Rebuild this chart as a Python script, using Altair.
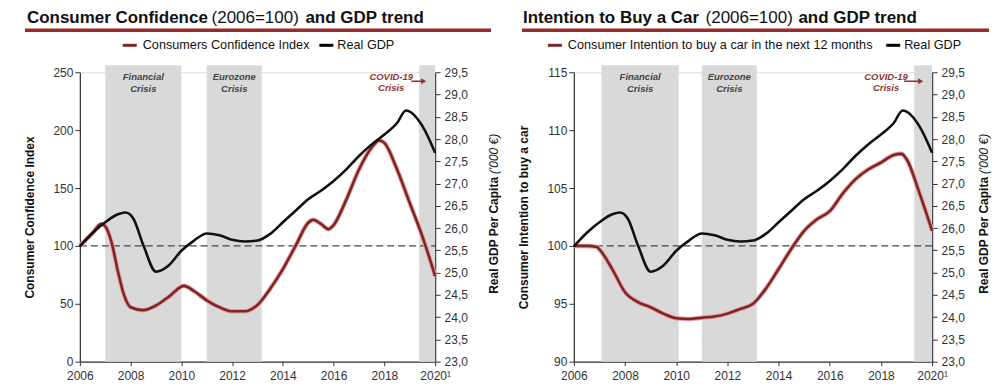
import altair as alt
import pandas as pd

# ---------------- data ----------------
gdp_years = [2006, 2006.5, 2007, 2007.5, 2007.8, 2008.1, 2008.5, 2009, 2009.5, 2010, 2010.5,
             2011, 2011.5, 2012, 2012.5, 2013, 2013.5, 2014, 2014.5, 2015, 2015.5,
             2016, 2016.5, 2017, 2017.5, 2018, 2018.5, 2018.85, 2019.5, 2020]
gdp_values = [25.59, 25.89, 26.13, 26.31, 26.35, 26.22, 25.62, 25.02, 25.16, 25.49, 25.72,
              25.88, 25.84, 25.74, 25.70, 25.72, 25.87, 26.13, 26.39, 26.65, 26.84,
              27.06, 27.32, 27.62, 27.88, 28.10, 28.36, 28.64, 28.29, 27.69]

conf_years = [2006, 2006.5, 2006.85, 2007, 2007.25, 2007.5, 2007.75, 2008, 2008.5, 2009,
              2009.5, 2010.1, 2010.5, 2011, 2011.5, 2012, 2012.5, 2013, 2013.5, 2014,
              2014.5, 2015, 2015.2, 2015.5, 2015.8, 2016, 2016.5, 2017, 2017.5, 2017.8,
              2018, 2018.5, 2019, 2019.5, 2020]
conf_values = [100, 111, 119, 117, 103, 78, 57, 47, 44.5, 48.5,
               56, 65.5, 61, 53, 47, 43.5, 43.5, 49, 63, 80,
               100, 120, 122.5, 119, 114.5, 118, 140, 166, 185, 191,
               189, 166, 137, 108, 74]

intent_years = [2006, 2006.5, 2006.9, 2007, 2007.5, 2008, 2008.5, 2009, 2009.5, 2010,
                2010.5, 2011, 2011.5, 2012, 2012.5, 2013, 2013.5, 2014, 2014.5, 2015,
                2015.5, 2016, 2016.5, 2017, 2017.5, 2018, 2018.5, 2018.8, 2019, 2019.5, 2020]
intent_values = [100, 100, 99.9, 99.7, 98.0, 96.0, 95.15, 94.7, 94.15, 93.75,
                 93.68, 93.8, 93.9, 94.15, 94.55, 95.0, 96.3, 98.0, 99.75, 101.3,
                 102.3, 103.0, 104.5, 105.75, 106.6, 107.2, 107.85, 107.95, 107.5, 104.6, 101.3]

x_ticks = [2006, 2008, 2010, 2012, 2014, 2016, 2018, 2020]
gdp_ticks = [23.0, 23.5, 24.0, 24.5, 25.0, 25.5, 26.0, 26.5, 27.0, 27.5, 28.0, 28.5, 29.0, 29.5]
conf_ticks = [0, 50, 100, 150, 200, 250]
intent_ticks = [90, 95, 100, 105, 110, 115]

crisis_labels = ["Financial\nCrisis", "Eurozone\nCrisis"]
left_shade_start = [2007.0, 2011.0, 2019.37]
left_shade_end = [2010.0, 2013.17, 2020.0]
right_shade_start = [2007.08, 2011.0, 2019.3]
right_shade_end = [2010.1, 2013.15, 2020.0]

FONT = "Liberation Sans"
RED = "#7e2626"
HALO = "#e6a0a0"
COVID = "#8b3636"
AXC = "#333333"
ONE = pd.DataFrame({"a": [0]})
TY = -54
H = 290


def panel(width, height, red_years, red_values, ydom, yticks, ytitle, title_parts,
          rule_x, legend_label, legend_pos, sh_start, sh_end, covid_x, arrow_x,
          rtitle_x):
    xs = alt.Scale(domain=[2006, 2020], nice=False, zero=False)
    xaxis = alt.Axis(values=x_ticks, title=None, grid=False, tickSize=4,
                     labelExpr="datum.value == 2020 ? '2020\u00b9' : datum.value + ''",
                     labelFont=FONT, labelFontSize=12, labelColor=AXC, labelPadding=5,
                     labelFlush=False, domainColor=AXC, tickColor=AXC, domainWidth=1.2)
    ys_left = alt.Scale(domain=ydom, nice=False, zero=False)
    yaxis_left = alt.Axis(orient="left", values=yticks, title=ytitle, grid=False, tickSize=5,
                          labelFont=FONT, labelFontSize=12, labelColor=AXC, labelPadding=2,
                          domainColor=AXC, tickColor=AXC, domainWidth=1.2,
                          titleFont=FONT, titleFontSize=12, titleFontWeight="bold",
                          titleColor="#111", titlePadding=16)
    ys_right = alt.Scale(domain=[23, 29.5], nice=False, zero=False)
    yaxis_right = alt.Axis(orient="right", values=gdp_ticks, title=None, grid=False, tickSize=5,
                           labelExpr="replace(format(datum.value, '.1f'), '.', ',')",
                           labelFont=FONT, labelFontSize=12, labelColor=AXC, labelPadding=4,
                           domainColor=AXC, tickColor=AXC, domainWidth=1.2)

    def X(field):
        return alt.X(field, scale=xs, axis=xaxis)

    shades = pd.DataFrame({"start": sh_start, "end": sh_end})
    shade = alt.Chart(shades).mark_rect(color="#d9d9d9").encode(
        x=X("start:Q"), x2="end:Q", y=alt.value(-7), y2=alt.value(height))

    base_df = pd.DataFrame({"x": [2006], "x2": [2020], "y": [100]})
    dash = alt.Chart(base_df).mark_rule(strokeDash=[7, 4], color="#444", strokeWidth=1.3).encode(
        x=X("x:Q"), x2="x2:Q", y=alt.Y("y:Q", scale=ys_left, axis=yaxis_left))
    red_df = pd.DataFrame({"year": red_years, "v": red_values})
    halo = alt.Chart(red_df).mark_line(interpolate="monotone", color=HALO, strokeWidth=4.5).encode(
        x=X("year:Q"), y=alt.Y("v:Q", scale=ys_left, axis=yaxis_left))
    red = alt.Chart(red_df).mark_line(interpolate="monotone", color=RED, strokeWidth=2.6).encode(
        x=X("year:Q"), y=alt.Y("v:Q", scale=ys_left, axis=yaxis_left))
    left_group = alt.layer(dash, halo, red)

    gdp_df = pd.DataFrame({"year": gdp_years, "g": gdp_values})
    gdp = alt.Chart(gdp_df).mark_line(interpolate="monotone", color="#111", strokeWidth=2.6).encode(
        x=X("year:Q"), y=alt.Y("g:Q", scale=ys_right, axis=yaxis_right))

    lab_df = pd.DataFrame({"x": [(sh_start[0] + sh_end[0]) / 2, (sh_start[1] + sh_end[1]) / 2],
                           "t": crisis_labels})
    labels = alt.Chart(lab_df).mark_text(font=FONT, fontSize=9.5, fontWeight="bold",
                                         fontStyle="italic", color="#444", lineBreak="\n",
                                         lineHeight=11.5, baseline="top").encode(
        x=X("x:Q"), y=alt.value(0), text="t:N")
    cov_df = pd.DataFrame({"x": [covid_x], "t": ["COVID-19\nCrisis"]})
    covid = alt.Chart(cov_df).mark_text(font=FONT, fontSize=9.5, fontWeight="bold",
                                        fontStyle="italic", color=COVID, lineBreak="\n",
                                        lineHeight=11, baseline="top").encode(
        x=X("x:Q"), y=alt.value(0), text="t:N")
    arr_df = pd.DataFrame({"x": [arrow_x[0]], "x2": [arrow_x[1]]})
    arrow = alt.Chart(arr_df).mark_rule(color=COVID, strokeWidth=1.5).encode(
        x=X("x:Q"), x2="x2:Q", y=alt.value(9))
    head = alt.Chart(pd.DataFrame({"x": [arrow_x[1]]})).mark_point(
        shape="triangle-right", filled=True, color=COVID, size=35, opacity=1).encode(
        x=X("x:Q"), y=alt.value(9))

    deco = []
    for txt, xpos, weight in title_parts:
        deco.append(alt.Chart(ONE).mark_text(text=txt, font=FONT, fontSize=17, fontWeight=weight,
                                             color="#111", align="left", baseline="middle").encode(
            x=alt.value(xpos), y=alt.value(TY)))
    deco.append(alt.Chart(ONE).mark_rule(color="#9a2b2b", strokeWidth=3.5).encode(
        x=alt.value(rule_x[0]), x2=alt.value(rule_x[1]), y=alt.value(-42)))
    sw1, t1, sw2, t2 = legend_pos
    deco.append(alt.Chart(ONE).mark_rule(color=RED, strokeWidth=3).encode(
        x=alt.value(sw1), x2=alt.value(sw1 + 14), y=alt.value(-27)))
    deco.append(alt.Chart(ONE).mark_text(text=legend_label, font=FONT, fontSize=12.7, color="#111",
                                         align="left", baseline="middle").encode(
        x=alt.value(t1), y=alt.value(-27)))
    deco.append(alt.Chart(ONE).mark_rule(color="#000", strokeWidth=3).encode(
        x=alt.value(sw2), x2=alt.value(sw2 + 14), y=alt.value(-27)))
    deco.append(alt.Chart(ONE).mark_text(text="Real GDP", font=FONT, fontSize=12.7, color="#111",
                                         align="left", baseline="middle").encode(
        x=alt.value(t2), y=alt.value(-27)))
    # right axis title (mixed bold / italic)
    deco.append(alt.Chart(ONE).mark_text(text="Real GDP Per Capita", font=FONT, fontSize=12,
                                         fontWeight="bold", color="#111", angle=270,
                                         align="left", baseline="middle").encode(
        x=alt.value(rtitle_x), y=alt.value(222)))
    deco.append(alt.Chart(ONE).mark_text(text="('000 \u20ac)", font=FONT, fontSize=12,
                                         fontStyle="italic", color="#111", angle=270,
                                         align="left", baseline="middle").encode(
        x=alt.value(rtitle_x), y=alt.value(102)))

    return alt.layer(shade, left_group, gdp, labels, covid, arrow, head, *deco).resolve_scale(
        y="independent").properties(width=width, height=height)


left = panel(356, H, conf_years, conf_values, [0, 250], conf_ticks,
             "Consumer Confidence Index",
             [("Consumer Confidence", -53, "bold"), ("(2006=100)", 132, "normal"),
              ("and GDP trend", 226, "bold")],
             (-55, 412), "Consumers Confidence Index", (43, 63, 240, 258),
             left_shade_start, left_shade_end, 2018.27, (2019.06, 2019.55), 415)

right = panel(359, H, intent_years, intent_values, [90, 115], intent_ticks,
              "Consumer Intention to buy a car",
              [("Intention to Buy a Car", -51, "bold"), ("(2006=100)", 132, "normal"),
               ("and GDP trend", 225, "bold")],
              (-52, 416), "Consumer Intention to buy a car in the next 12 months",
              (-26, -6, 313, 331),
              right_shade_start, right_shade_end, 2018.2, (2018.9, 2019.55), 411)

chart = alt.hconcat(left, right, spacing=139, bounds="flush").properties(
    padding={"left": 14, "top": 0, "right": 0, "bottom": 0}
).configure_view(stroke=None).configure(font=FONT, background="white")

chart.save("out.html", embed_options={"renderer": "svg", "actions": False})
